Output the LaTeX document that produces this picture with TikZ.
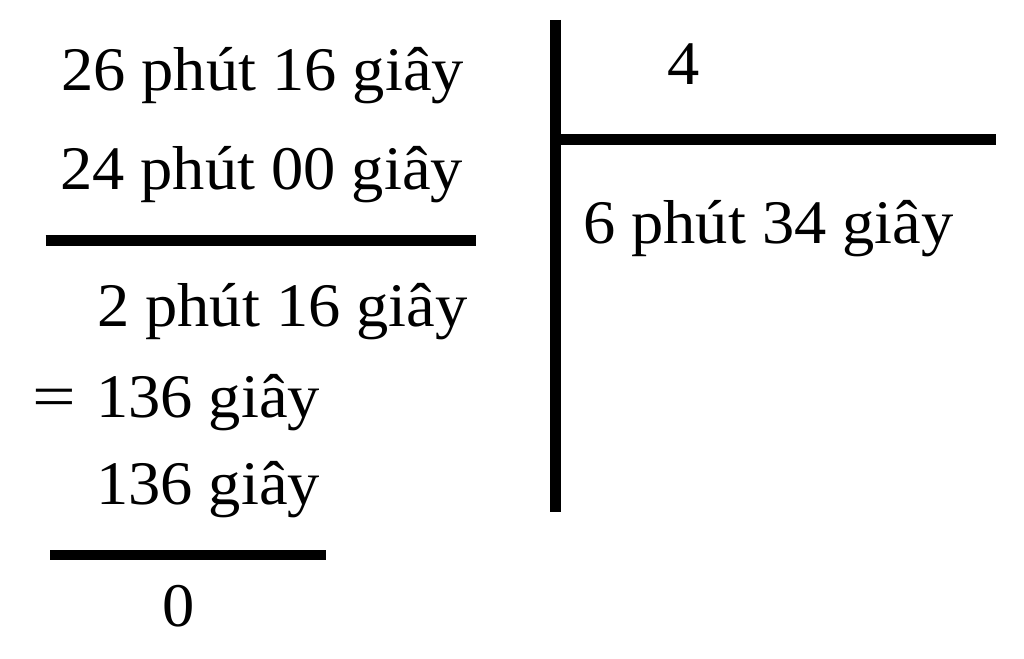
\documentclass[tikz,border=0pt]{standalone}
\usepackage{fontspec}
\setmainfont[FakeStretch=1.04]{Liberation Serif}
\newfontfamily\eqfont[FakeStretch=1.25]{Liberation Serif}
\begin{document}
\begin{tikzpicture}[x=0.75pt,y=-0.75pt,
  txt/.style={anchor=base west,inner sep=0pt,outer sep=0pt,font=\fontsize{46.5}{47}\selectfont},
  eqtxt/.style={anchor=base west,inner sep=0pt,outer sep=0pt,font=\eqfont\fontsize{46.5}{47}\selectfont},
  rule/.style={line width=8pt,draw=black}]
\useasboundingbox (0,0) rectangle (1024,659);
\node[txt] (a) at (61,90.5) {26 phút 16 giây};
\node[txt] (b) at (60,189.5) {24 phút 00 giây};
\node[txt] (c) at (97,326.5) {2 phút 16 giây};
\node[eqtxt] (d) at (32,417.5) {=};
\node[txt] (e) at (96,417.5) {136 giây};
\node[txt] (f) at (96,504.5) {136 giây};
\node[txt] (g) at (162,626.5) {0};
\node[txt] (h) at (667,84.5) {4};
\node[txt] (i) at (583,243.5) {6 phút 34 giây};
\coordinate (r1a) at (45.5,240.5); \coordinate (r1b) at (476,240.5);
\coordinate (r2a) at (50,555); \coordinate (r2b) at (326,555);
\coordinate (va) at (555.5,20); \coordinate (vb) at (555.5,512);
\coordinate (ha) at (555.5,139.5); \coordinate (hb) at (996,139.5);
\draw[rule] (r1a) -- (r1b);
\draw[rule] (r2a) -- (r2b);
\draw[rule] (va) -- (vb);
\draw[rule] (ha) -- (hb);
\end{tikzpicture}
\end{document}
